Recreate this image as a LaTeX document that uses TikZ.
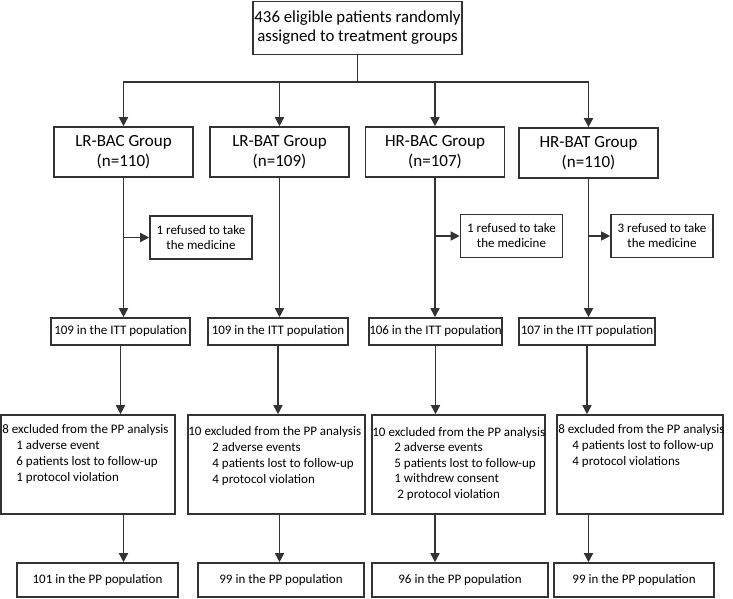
\documentclass[tikz,border=0pt]{standalone}
\usepackage{fontspec}
\setmainfont{Carlito}
\usetikzlibrary{arrows.meta}
\definecolor{frame}{HTML}{333333}
\tikzset{
	box/.style={draw=frame,line width=1.6pt,inner sep=0pt,align=center},
	arr/.style={draw=frame,line width=1.6pt,-{Triangle[length=9pt,width=9pt]}},
	groupbox/.style={box,minimum width=139pt,minimum height=50pt,font=\fontsize{17}{20}\selectfont},
	itt/.style={box,minimum height=27pt,font=\fontsize{13}{15}\selectfont},
	refuse/.style={box,minimum width=102pt,minimum height=43pt,font=\fontsize{13}{15}\selectfont},
	excl/.style={box,minimum height=99pt},
	extext/.style={anchor=north west,inner sep=0pt,align=left,font=\fontsize{13}{16}\selectfont},
	pp/.style={box,minimum height=34pt,font=\fontsize{13}{15}\selectfont},
}

\begin{document}
\begin{tikzpicture}[x=1pt,y=-1pt]
		\fill [white] (0,0) rectangle (733,599);
		\useasboundingbox (0,0) rectangle (733,599);
		%
		\node [box,minimum width=209pt,minimum height=53pt,font=\fontsize{16.8}{19}\selectfont] (top) at (357.5,28) {436 eligible patients randomly\\assigned to treatment groups};
		\node [groupbox] (lrbac) at (123.5,152) {LR-BAC Group\\(n=110)};
		\node [groupbox] (lrbat) at (279.5,152) {LR-BAT Group\\(n=109)};
		\node [groupbox] (hrbac) at (435,152) {HR-BAC Group\\(n=107)};
		\node [groupbox] (hrbat) at (588.5,153) {HR-BAT Group\\(n=110)};
		\coordinate (split) at (357.5,82);
		\foreach \g in {lrbac,lrbat,hrbac,hrbat}
			\draw [arr] (top.south) -- (split) -| (\g.north);
		%
		\node [refuse] (ref1) at (201,237.5) {1 refused to take\\the medicine};
		\node [refuse] (ref3) at (511.5,236) {1 refused to take\\the medicine};
		\node [refuse] (ref4) at (662,236) {3 refused to take\\the medicine};
		%
		\node [itt,minimum width=139pt] (itt1) at (120.5,331.5) {109 in the ITT population};
		\node [itt,minimum width=140pt] (itt2) at (278,331.5) {109 in the ITT population};
		\node [itt,minimum width=127pt] (itt3) at (435.5,331.5) {106 in the ITT population};
		\node [itt,minimum width=136pt] (itt4) at (587,331.5) {107 in the ITT population};
		\draw [arr] (lrbac.south) -- (lrbac.south |- itt1.north);
		\draw [arr] (lrbat.south) -- (lrbat.south |- itt2.north);
		\draw [arr] (hrbac.south) -- (hrbac.south |- itt3.north);
		\draw [arr] (hrbat.south) -- (hrbat.south |- itt4.north);
		\draw [arr] (lrbac.south |- ref1.west) -- (ref1.west);
		\draw [arr] (hrbac.south |- ref3.west) -- (ref3.west);
		\draw [arr] (hrbat.south |- ref4.west) -- (ref4.west);
		%
		\node [excl,minimum width=174pt] (ex1) at (88,464.5) {};
		\node [excl,minimum width=177pt] (ex2) at (276.5,464.5) {};
		\node [excl,minimum width=173pt] (ex3) at (458.5,464.5) {};
		\node [excl,minimum width=166pt] (ex4) at (640,464.5) {};
		\node [extext] (ex1t) at ([shift={(2,10)}]ex1.north west) {8 excluded from the PP analysis\\\hspace*{14pt}1 adverse event\\\hspace*{14pt}6 patients lost to follow-up\\\hspace*{14pt}1 protocol violation};
		\node [extext] (ex2t) at ([shift={(1,12)}]ex2.north west) {10 excluded from the PP analysis\\\hspace*{24pt}2 adverse events\\\hspace*{24pt}4 patients lost to follow-up\\\hspace*{24pt}4 protocol violation};
		\node [extext,font=\fontsize{13}{15.5}\selectfont] (ex3t) at ([shift={(1,13)}]ex3.north west) {10 excluded from the PP analysis\\\hspace*{22pt}2 adverse events\\\hspace*{22pt}5 patients lost to follow-up\\\hspace*{22pt}1 withdrew consent\\\hspace*{25pt}2 protocol violation};
		\node [extext] (ex4t) at ([shift={(2,10)}]ex4.north west) {8 excluded from the PP analysis\\\hspace*{14pt}4 patients lost to follow-up\\\hspace*{14pt}4 protocol violations};
		\draw [arr] (itt1.south) -- (itt1.south |- ex1.north);
		\draw [arr] (itt2.south) -- (itt2.south |- ex2.north);
		\draw [arr] (itt3.south) -- (itt3.south |- ex3.north);
		\draw [arr] (itt4.south) -- (itt4.south |- ex4.north);
		%
		\node [pp,minimum width=161pt] (pp1) at (97.5,580) {101 in the PP population};
		\node [pp,minimum width=166pt] (pp2) at (281,580) {99 in the PP population};
		\node [pp,minimum width=176pt] (pp3) at (460,580) {96 in the PP population};
		\node [pp,minimum width=160pt] (pp4) at (634,580) {99 in the PP population};
		\draw [arr] (ex1.south -| lrbac.south) -- (pp1.north -| lrbac.south);
		\draw [arr] (ex2.south -| lrbat.south) -- (pp2.north -| lrbat.south);
		\draw [arr] (ex3.south -| hrbac.south) -- (pp3.north -| hrbac.south);
		\draw [arr] (ex4.south -| hrbat.south) -- (pp4.north -| hrbat.south);
\end{tikzpicture}
\end{document}
